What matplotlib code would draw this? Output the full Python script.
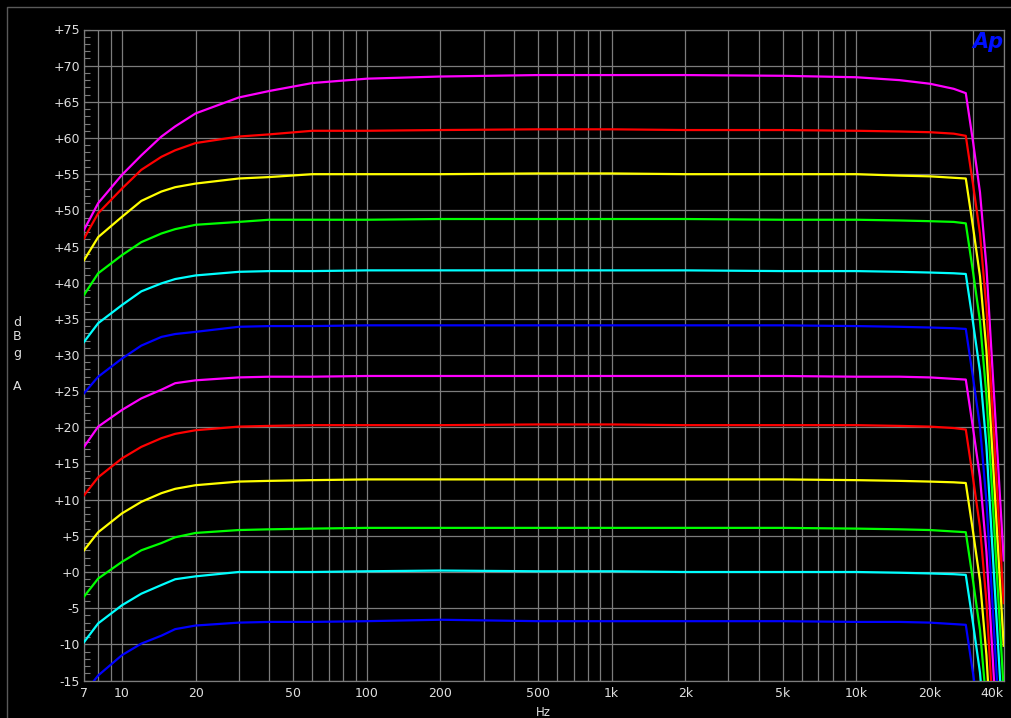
import numpy as np
import matplotlib
matplotlib.use("Agg")
import matplotlib.pyplot as plt
from matplotlib.ticker import FixedLocator, NullFormatter

# frequency points (Hz)
freq = [7, 8, 10, 12, 14.5, 16.5, 20, 30, 40, 60, 100, 200, 500, 1000, 2000, 5000,
        10000, 15000, 20000, 25000, 28000, 30000, 32000, 34000, 36000, 38000, 40000]

# response curves (dBg A), top to bottom
magenta1 = [47.3, 51.0, 54.9, 57.6, 60.2, 61.6, 63.4, 65.6, 66.5, 67.6, 68.2, 68.5, 68.7, 68.7, 68.7, 68.6,
            68.4, 68.0, 67.5, 66.8, 66.2, 59.4, 52.5, 42.2, 28.0, 14.5, 1.6]
red1 = [46.1, 49.6, 53.0, 55.6, 57.4, 58.3, 59.3, 60.2, 60.5, 61.0, 61.0, 61.1, 61.2, 61.2, 61.1, 61.1,
        61.0, 60.9, 60.8, 60.6, 60.3, 53.5, 46.8, 36.5, 22.3, 8.6, -4.3]
yellow1 = [43.1, 46.3, 49.1, 51.3, 52.6, 53.2, 53.7, 54.4, 54.6, 55.0, 55.0, 55.0, 55.1, 55.1, 55.0, 55.0,
           55.0, 54.8, 54.7, 54.5, 54.4, 47.6, 40.9, 30.6, 16.3, 2.7, -10.2]
green1 = [38.3, 41.3, 43.8, 45.6, 46.8, 47.4, 48.0, 48.4, 48.7, 48.7, 48.7, 48.8, 48.8, 48.8, 48.8, 48.7,
          48.7, 48.6, 48.5, 48.4, 48.2, 41.4, 34.7, 24.4, 10.2, -3.5, -16.4]
cyan1 = [31.8, 34.4, 36.9, 38.8, 39.9, 40.5, 41.0, 41.5, 41.6, 41.6, 41.7, 41.7, 41.7, 41.7, 41.7, 41.6,
         41.6, 41.5, 41.4, 41.3, 41.2, 34.4, 27.7, 17.4, 3.1, -10.5, -23.4]
blue1 = [24.7, 27.0, 29.5, 31.3, 32.5, 32.9, 33.2, 33.9, 34.0, 34.0, 34.1, 34.1, 34.1, 34.1, 34.1, 34.1,
         34.0, 33.9, 33.8, 33.7, 33.6, 26.8, 20.1, 9.8, -4.5, -18.0, -31.0]
magenta2 = [17.3, 20.1, 22.4, 24.0, 25.2, 26.1, 26.5, 26.9, 27.0, 27.0, 27.1, 27.1, 27.1, 27.1, 27.1, 27.1,
            27.0, 27.0, 26.9, 26.7, 26.6, 19.8, 13.1, 2.8, -11.4, -25.0, -38.0]
red2 = [10.6, 13.1, 15.7, 17.3, 18.5, 19.1, 19.6, 20.1, 20.2, 20.3, 20.3, 20.3, 20.4, 20.4, 20.3, 20.3,
        20.3, 20.2, 20.1, 19.9, 19.7, 12.9, 6.2, -4.1, -18.4, -32.0, -45.0]
yellow2 = [3.0, 5.5, 8.1, 9.7, 10.9, 11.5, 12.0, 12.5, 12.6, 12.7, 12.8, 12.8, 12.8, 12.8, 12.8, 12.8,
           12.7, 12.6, 12.5, 12.4, 12.3, 5.5, -1.2, -11.5, -25.8, -39.0, -52.0]
green2 = [-3.4, -0.9, 1.4, 3.0, 4.0, 4.8, 5.4, 5.8, 5.9, 6.0, 6.1, 6.1, 6.1, 6.1, 6.1, 6.1,
          6.0, 5.9, 5.8, 5.6, 5.5, -1.3, -8.0, -18.3, -32.5, -46.0, -59.0]
cyan2 = [-9.7, -7.1, -4.6, -3.0, -1.8, -1.0, -0.6, 0.0, 0.0, 0.0, 0.1, 0.2, 0.1, 0.1, 0.0, 0.0,
         0.0, -0.1, -0.2, -0.3, -0.4, -7.2, -13.9, -24.2, -38.5, -52.0, -65.0]
blue2 = [-16.8, -14.3, -11.5, -9.9, -8.8, -7.9, -7.4, -7.0, -6.9, -6.9, -6.8, -6.6, -6.8, -6.8, -6.8, -6.8,
         -6.9, -6.9, -7.0, -7.2, -7.3, -14.1, -20.8, -31.0, -45.0, -59.0, -72.0]

curves = [magenta1, red1, yellow1, green1, cyan1, blue1,
          magenta2, red2, yellow2, green2, cyan2, blue2]
colors = ["#ff00ff", "#ff0000", "#ffff00", "#00ff00", "#00ffff", "#0000ff"] * 2

xtick_vals = [7, 10, 20, 50, 100, 200, 500, 1000, 2000, 5000, 10000, 20000, 40000]
xtick_labels = ["7", "10", "20", "50", "100", "200", "500", "1k", "2k", "5k", "10k", "20k", "40k"]
ytick_vals = list(range(-15, 80, 5))

W, H = 1011, 718
fig = plt.figure(figsize=(W / 100, H / 100), dpi=100, facecolor="black")
ax = fig.add_axes([84 / W, (H - 680.5) / H, (1003.7 - 84) / W, (680.5 - 29.5) / H])
ax.set_facecolor("black")

for vals, c in zip(curves, colors):
    ax.plot(freq, vals, color=c, lw=1.6, zorder=3)

ax.set_xscale("log")
ax.set_xlim(7, 40000)
ax.set_ylim(-15, 75)

gridc = "#7c7c7c"
txtc = "#e0e0e0"
minor_x = [m * 10 ** e for e in range(0, 5) for m in range(1, 10) if 7 <= m * 10 ** e <= 40000]
ax.xaxis.set_major_locator(FixedLocator(xtick_vals))
ax.set_xticklabels(xtick_labels)
ax.xaxis.set_minor_locator(FixedLocator(minor_x))
ax.xaxis.set_minor_formatter(NullFormatter())
ax.set_yticks(ytick_vals)
ax.set_yticklabels([f"+{v}" if v >= 0 else f"{v}" for v in ytick_vals])
ax.set_yticks(range(-15, 76), minor=True)

ax.grid(True, which="both", axis="x", color=gridc, lw=0.9)
ax.grid(True, which="major", axis="y", color=gridc, lw=0.9)
ax.tick_params(axis="x", which="both", length=0, colors=txtc, labelsize=9, pad=5)
ax.tick_params(axis="y", which="both", direction="in", length=4, color=gridc, width=0.8,
               labelcolor=txtc, labelsize=9, pad=3)
for s in ax.spines.values():
    s.set_color(gridc)
    s.set_linewidth(0.9)

# right-most label sits inside the axis
for lab in ax.get_xticklabels():
    if lab.get_text() == "40k":
        lab.set_horizontalalignment("right")
        lab.set_x(1.0)

# outer frame
frame = plt.Line2D([7 / W, 7 / W, 1.0], [0, 1 - 7 / H, 1 - 7 / H], transform=fig.transFigure,
                   color="#5a5a5a", lw=1)
fig.add_artist(frame)

# y label, stacked letters
for ch, yp in zip(["d", "B", "g", "A"], [322, 337, 353, 387]):
    fig.text(17 / W, 1 - yp / H, ch, color=txtc, fontsize=9, ha="center", va="center")

fig.text(543 / W, 1 - 706 / H, "Hz", color=txtc, fontsize=8.5, ha="center", va="top")
fig.text(988 / W, 1 - 42 / H, "Ap", color="#0010ff", fontsize=15, fontweight="bold",
         fontstyle="italic", ha="center", va="center")

fig.savefig("out.png", dpi=100, facecolor="black")
